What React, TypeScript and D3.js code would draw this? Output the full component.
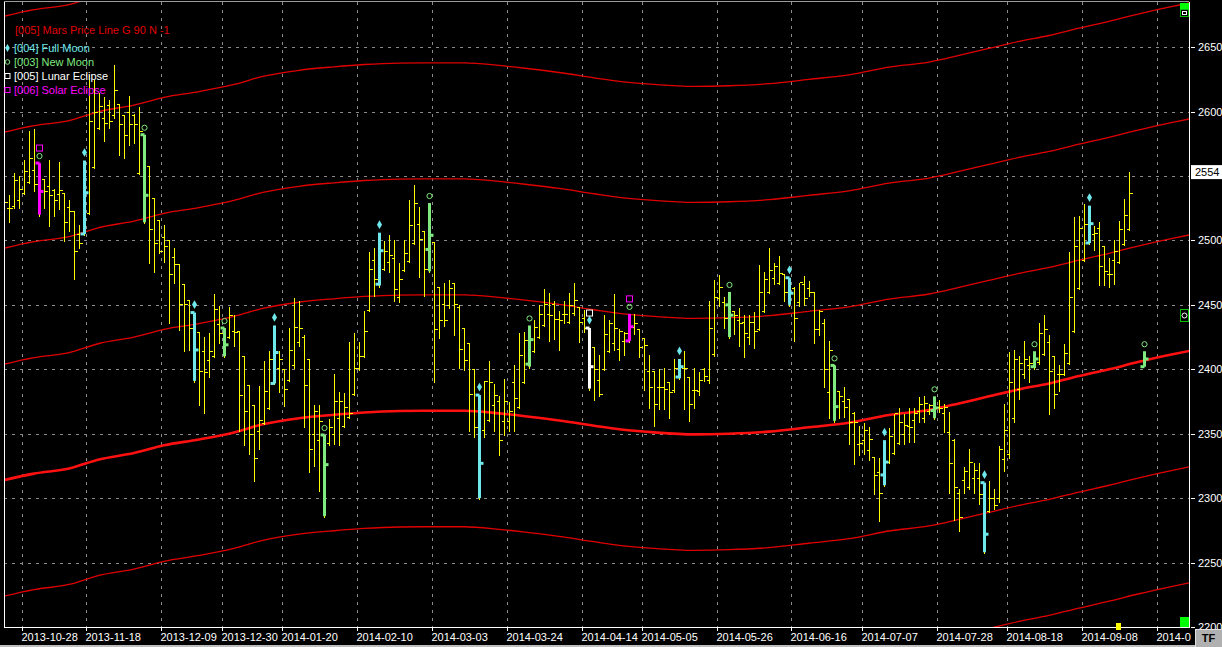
import React from 'react';
import * as d3 from 'd3';

// ---- DATA ----
const opens = [
  2504,2525,2527,2531,2537,2545,2555,2560,2548,2542,
  2539,2536,2537,2526,2523,2505,2505,2521,2557,2587,
  2595,2605,2597,2606,2597,2600,2597,2552,2582,2558,
  2533,2516,2503,2500,2487,2482,2466,2454,2444,2429,
  2414,2407,2410,2435,2432,2425,2430,2430,2410,2388,
  2372,2352,2358,2370,2389,2401,2400,2392,2403,2421,
  2425,2408,2350,2345,2349,2343,2350,2362,2356,2363,
  2381,2401,2410,2446,2485,2466,2478,2483,2486,2456,
  2477,2484,2498,2513,2507,2493,2499,2464,2451,2450,
  2467,2448,2432,2420,2400,2380,2353,2361,2372,2375,
  2360,2360,2390,2371,2390,2404,2414,2425,2434,2443,
  2451,2439,2443,2437,2444,2448,2440,2432,2417,2392,
  2400,2414,2420,2416,2422,2422,2433,2431,2424,2399,
  2399,2386,2386,2390,2384,2394,2401,2394,2384,2383,
  2400,2392,2412,2455,2452,2450,2445,2438,2437,2425,
  2437,2431,2445,2460,2471,2467,2474,2471,2463,2452,
  2466,2463,2460,2431,2436,2382,2403,2383,2375,2377,
  2366,2342,2345,2337,2332,2320,2318,2328,2335,2343,
  2350,2356,2361,2368,2362,2368,2368,2371,2366,2351,
  2345,2304,2314,2309,2316,2316,2312,2290,2300,2300,
  2330,2334,2362,2385,2396,2403,2402,2406,2412,2421,
  2410,2396,2396,2405,2430,2463,2485,2498,2505,2510,
  2496,2474,2485,2483,2497,2509,
];
const highs = [
  2567,2536,2553,2551,2563,2586,2587,2560,2548,2563,
  2541,2562,2537,2532,2523,2513,2562,2629,2625,2615,
  2612,2610,2637,2606,2597,2613,2599,2604,2582,2558,
  2533,2516,2513,2500,2495,2482,2466,2454,2444,2429,
  2426,2429,2459,2450,2432,2449,2443,2430,2410,2388,
  2372,2388,2407,2415,2434,2415,2401,2433,2456,2454,
  2427,2408,2373,2373,2349,2362,2397,2383,2382,2422,
  2429,2422,2446,2492,2495,2506,2500,2505,2501,2483,
  2501,2532,2544,2527,2507,2529,2499,2464,2468,2470,
  2467,2451,2432,2420,2401,2380,2392,2407,2389,2380,
  2393,2375,2404,2429,2430,2434,2439,2451,2463,2460,
  2454,2446,2454,2460,2468,2449,2447,2432,2417,2412,
  2443,2439,2459,2432,2430,2443,2444,2431,2424,2412,
  2399,2401,2402,2390,2409,2408,2415,2395,2402,2399,
  2402,2454,2470,2474,2457,2460,2446,2448,2443,2443,
  2445,2482,2476,2495,2483,2489,2474,2471,2465,2468,
  2473,2469,2461,2447,2440,2423,2403,2383,2387,2377,
  2368,2357,2359,2356,2332,2332,2345,2355,2366,2371,
  2366,2371,2371,2379,2380,2374,2379,2377,2374,2368,
  2347,2308,2325,2339,2328,2328,2312,2314,2308,2341,
  2374,2414,2416,2411,2423,2411,2414,2437,2443,2427,
  2410,2404,2420,2492,2519,2520,2529,2527,2512,2515,
  2496,2487,2501,2516,2533,2554,
];
const lows = [
  2503,2515,2526,2526,2537,2545,2539,2520,2526,2512,
  2520,2525,2500,2508,2471,2495,2505,2521,2557,2587,
  2578,2588,2596,2567,2565,2575,2576,2552,2514,2483,
  2476,2491,2484,2437,2468,2431,2415,2416,2391,2373,
  2367,2395,2410,2421,2410,2425,2419,2353,2342,2335,
  2314,2339,2358,2370,2389,2383,2372,2392,2402,2419,
  2356,2321,2326,2306,2286,2342,2343,2342,2356,2363,
  2381,2400,2410,2446,2458,2465,2478,2476,2454,2453,
  2477,2484,2498,2472,2458,2476,2391,2425,2434,2448,
  2427,2402,2400,2353,2348,2300,2348,2361,2353,2334,
  2350,2353,2353,2371,2390,2402,2414,2425,2434,2423,
  2424,2416,2437,2437,2443,2422,2430,2385,2377,2380,
  2400,2414,2416,2408,2412,2422,2428,2410,2385,2371,
  2357,2370,2370,2363,2383,2393,2370,2361,2371,2381,
  2392,2390,2411,2450,2433,2425,2428,2419,2410,2420,
  2417,2431,2445,2460,2467,2467,2454,2450,2423,2450,
  2451,2458,2421,2427,2387,2363,2360,2363,2364,2343,
  2327,2334,2335,2330,2304,2283,2310,2328,2335,2343,
  2343,2344,2344,2360,2360,2366,2362,2368,2352,2305,
  2284,2275,2305,2308,2305,2296,2258,2290,2292,2298,
  2322,2332,2360,2378,2394,2391,2401,2405,2412,2366,
  2371,2384,2396,2405,2430,2463,2485,2498,2493,2466,
  2466,2465,2467,2483,2497,2509,
];
const closes = [
  2530,2525,2547,2540,2554,2564,2544,2538,2538,2535,
  2531,2539,2514,2523,2492,2498,2537,2593,2600,2604,
  2591,2593,2617,2590,2582,2590,2590,2585,2535,2509,
  2498,2492,2496,2474,2482,2451,2451,2432,2415,2399,
  2398,2414,2447,2428,2419,2442,2429,2380,2368,2350,
  2331,2361,2383,2408,2413,2408,2385,2415,2433,2432,
  2388,2338,2368,2360,2326,2355,2375,2375,2371,2366,
  2401,2410,2430,2478,2470,2492,2492,2489,2462,2470,
  2490,2512,2529,2501,2478,2504,2431,2438,2438,2463,
  2451,2416,2407,2381,2355,2327,2391,2390,2380,2345,
  2375,2368,2378,2411,2423,2423,2433,2443,2451,2442,
  2439,2438,2443,2450,2454,2437,2432,2402,2400,2381,
  2427,2436,2432,2430,2428,2433,2436,2417,2419,2386,
  2373,2386,2385,2382,2401,2402,2401,2373,2384,2392,
  2395,2432,2456,2464,2440,2442,2442,2436,2428,2437,
  2430,2460,2470,2477,2480,2475,2460,2459,2440,2468,
  2455,2460,2431,2445,2400,2415,2371,2379,2371,2359,
  2359,2343,2353,2346,2318,2304,2328,2348,2366,2359,
  2357,2355,2366,2373,2374,2372,2370,2370,2371,2327,
  2309,2285,2321,2328,2322,2303,2272,2300,2295,2338,
  2353,2390,2408,2405,2408,2405,2408,2428,2431,2399,
  2381,2396,2413,2456,2496,2510,2513,2513,2506,2480,
  2476,2474,2492,2509,2520,2537,
];

// projected new-moon bar (future)
const projIndex = [228];
const projOHLC = [[2402, 2414, 2402, 2408]];

const fullMoonBars = [16, 38, 54, 75, 95, 117, 135, 157, 176, 196, 217];
const newMoonBars = [7, 28, 44, 64, 85, 105, 125, 145, 166, 186, 206, 228];
const lunarEclipseBars = [117];
const solarEclipseBars = [7, 125];

// Mars price line (base, harmonic offsets of 90)
const marsIdx = [-1, 6, 13, 19, 26, 32, 39, 46, 52, 59, 66, 72, 79, 86, 92, 99, 105, 111, 118, 123, 130, 138, 145, 153, 161, 169, 177, 185, 191, 197, 203, 209, 215, 221, 227, 233, 238];
const marsBase = [2313, 2319, 2323, 2330, 2335, 2341, 2345.5, 2351, 2357.5, 2362, 2364.7, 2366.5, 2367.6, 2367.8, 2367.8, 2365.8, 2363.2, 2360.3, 2356.2, 2353.4, 2351, 2349.5, 2350, 2351.6, 2355, 2358.5, 2364.5, 2368.4, 2373.5, 2379, 2384.4, 2389, 2394.7, 2400, 2405.8, 2411, 2415];
const marsOffsets = [-180, -90, 0, 90, 180, 270, 360];

const xTickIdx = [3, 16, 31, 43, 55, 70, 85, 100, 115, 127, 142, 157, 171, 186, 200, 215, 230];
const xTickLabels = ['2013-10-28', '2013-11-18', '2013-12-09', '2013-12-30', '2014-01-20', '2014-02-10', '2014-03-03', '2014-03-24', '2014-04-14', '2014-05-05', '2014-05-26', '2014-06-16', '2014-07-07', '2014-07-28', '2014-08-18', '2014-09-08', '2014-09-29'];
const yTicks = [2200, 2250, 2300, 2350, 2400, 2450, 2500, 2550, 2600, 2650];
const lastPriceLabel = '2554';
const lastPriceValue = 2553;

// ---- LAYOUT ----
const W = 1222, H = 647;
const L = 4, R = 1189, T = 2, B = 627;
const TF_X = 1195;
const FONT = '"Liberation Sans", Arial, sans-serif';
const C_CYAN = '#6fe8ec';
const C_GREEN = '#7fea7f';
const C_MAG = '#ff00ff';
const C_YEL = '#ffff00';

export default function App() {
  const x = d3.scaleLinear().domain([0, 237]).range([L, R]);
  const y = d3.scaleLinear().domain([2200, 2685]).range([B, T]);
  const px = (k: number) => Math.round(x(k)) + 0.5;
  const py = (v: number) => Math.round(y(v)) + 0.5;

  const bars = opens.map((o, i) => ({ i, o, h: highs[i], l: lows[i], c: closes[i] }));
  const allBars = [...bars, ...projIndex.map((k, j) => ({ i: k, o: projOHLC[j][0], h: projOHLC[j][1], l: projOHLC[j][2], c: projOHLC[j][3] }))];
  const byIdx = new Map(allBars.map(b => [b.i, b]));

  const marsPts: [number, number][] = marsIdx.map((k, i) => [k, marsBase[i]]);
  const lineGen = (off: number) =>
    d3.line<[number, number]>().x(d => x(d[0])).y(d => y(d[1] + off)).curve(d3.curveMonotoneX)(marsPts) || '';

  const eventBars = Array.from(new Set([...fullMoonBars, ...newMoonBars, ...lunarEclipseBars, ...solarEclipseBars])).sort((a, b) => a - b);
  const colorFor = (k: number) => {
    if (solarEclipseBars.includes(k)) return C_MAG;
    if (lunarEclipseBars.includes(k)) return '#ffffff';
    if (fullMoonBars.includes(k)) return C_CYAN;
    return C_GREEN;
  };
  const priceY = y(lastPriceValue);
  const charW = 5.8;
  const fitLabel = (s: string, gx: number) => {
    const n = Math.floor((TF_X - 1 - gx) / charW);
    return n >= s.length ? s : s.slice(0, Math.max(0, n));
  };

  return (
    <div style={{ position: 'fixed', left: 0, top: 0, width: W, height: H, background: '#000', overflow: 'hidden' }}>
      <svg width={W} height={H} style={{ display: 'block' }}>
        <rect x={0} y={0} width={W} height={H} fill="#000" />
        <defs>
          <clipPath id="plot"><rect x={L} y={T} width={R - L} height={B - T} /></clipPath>
        </defs>
        {/* grid */}
        <g stroke="#8a8a8a" strokeWidth={1} strokeDasharray="3,5" shapeRendering="crispEdges">
          {xTickIdx.map((k, i) => (
            <line key={'gx' + i} x1={Math.round(x(k + 0.5)) + 0.5} x2={Math.round(x(k + 0.5)) + 0.5} y1={T} y2={B} />
          ))}
          {yTicks.filter(v => v > 2200).map(v => (
            <line key={'gy' + v} x1={L} x2={R} y1={py(v)} y2={py(v)} />
          ))}
        </g>
        <g clipPath="url(#plot)">
          {/* Mars price lines */}
          {marsOffsets.map(off => (
            <path key={'m' + off} d={lineGen(off)} fill="none" stroke={off === 0 ? '#ff1010' : '#e00000'} strokeWidth={off === 0 ? 2.6 : 1.3} />
          ))}
          {/* OHLC bars */}
          <g stroke={C_YEL} strokeWidth={1} shapeRendering="crispEdges">
            {bars.map(b => {
              const cx = px(b.i);
              return (
                <g key={'b' + b.i}>
                  <line x1={cx} x2={cx} y1={py(b.h)} y2={py(b.l) + 1} />
                  <line x1={cx - 3} x2={cx} y1={py(b.o)} y2={py(b.o)} />
                  <line x1={cx} x2={cx + 3.5} y1={py(b.c)} y2={py(b.c)} />
                </g>
              );
            })}
          </g>
          {/* moon event bars */}
          {eventBars.map(k => {
            const b = byIdx.get(k);
            if (!b) return null;
            const col = colorFor(k);
            const cx = Math.round(x(k)) + 0.5;
            const top = y(b.h);
            const isFull = fullMoonBars.includes(k);
            const isNew = newMoonBars.includes(k);
            const isEcl = solarEclipseBars.includes(k) || lunarEclipseBars.includes(k);
            const sqCol = solarEclipseBars.includes(k) ? C_MAG : '#ffffff';
            return (
              <g key={'e' + k}>
                <line x1={cx} x2={cx} y1={y(b.h)} y2={y(b.l)} stroke={col} strokeWidth={3} />
                <line x1={cx - 4} x2={cx} y1={y(b.o)} y2={y(b.o)} stroke={col} strokeWidth={3} />
                <line x1={cx} x2={cx + 4} y1={y(b.c)} y2={y(b.c)} stroke={col} strokeWidth={3} />
                {isFull && <path d={d3.symbol().type(d3.symbolDiamond).size(22)() || ''} transform={`translate(${cx},${top - 8})`} fill={C_CYAN} />}
                {isNew && <circle cx={cx} cy={top - 7} r={2.6} fill="none" stroke={C_GREEN} strokeWidth={1} />}
                {isEcl && <rect x={cx - 3} y={top - 18} width={6} height={6} fill="none" stroke={sqCol} strokeWidth={1} />}
              </g>
            );
          })}
        </g>
        {/* frame */}
        <g stroke="#ffffff" strokeWidth={1} shapeRendering="crispEdges">
          <line x1={L + 0.5} x2={L + 0.5} y1={T} y2={B} />
          <line x1={R + 0.5} x2={R + 0.5} y1={T} y2={B + 1} />
          <line x1={L} x2={R + 1} y1={B + 0.5} y2={B + 0.5} />
        </g>
        <line x1={L} x2={R} y1={1.5} y2={1.5} stroke="#9a9a9a" strokeWidth={1} />
        {/* x axis ticks + labels */}
        <g>
          {xTickIdx.map((k, i) => {
            const gx = Math.round(x(k + 0.5)) + 0.5;
            return (
              <g key={'xl' + i}>
                <line x1={gx} x2={gx} y1={B + 1} y2={B + 4} stroke="#ffffff" strokeWidth={1} />
                <text x={gx - 1} y={641} fill="#ffffff" fontSize={11} fontFamily={FONT}>{fitLabel(xTickLabels[i], gx - 1)}</text>
              </g>
            );
          })}
        </g>
        {/* y axis */}
        <g>
          {yTicks.map(v => (
            <g key={'yl' + v}>
              <line x1={R + 2} x2={R + 6} y1={py(v)} y2={py(v)} stroke="#ffffff" strokeWidth={1} />
              {Math.abs(y(v) - priceY) > 12 && (
                <text x={1198} y={y(v) + 4} fill="#ffffff" fontSize={11} fontFamily={FONT}>{v}</text>
              )}
            </g>
          ))}
          <rect x={1191} y={priceY - 7} width={31} height={14} fill="#ffffff" />
          <text x={1195} y={priceY + 4} fill="#000" fontSize={11} fontFamily={FONT}>{lastPriceLabel}</text>
        </g>
        {/* right-side widgets */}
        <rect x={1180} y={3} width={9} height={7} fill="#00ff00" />
        <rect x={1180.5} y={9.5} width={8} height={7} fill="#000" stroke="#00c000" />
        <rect x={1182.5} y={11.5} width={4} height={3} fill="none" stroke="#ffffff" />
        <rect x={1180.5} y={309.5} width={8} height={12} fill="#000" stroke="#00c000" />
        <circle cx={1184.5} cy={315.5} r={2.5} fill="none" stroke="#ffffff" />
        <rect x={1180} y={617} width={9} height={10} fill="#00ff00" />
        <rect x={x(222.8) - 2} y={623} width={5} height={7} fill="#ffff00" />
        {/* TF button */}
        <rect x={TF_X + 0.5} y={629.5} width={W - TF_X} height={18} fill="#b0b0b0" stroke="#e0e0e0" />
        <text x={(TF_X + W) / 2} y={642} textAnchor="middle" fill="#000" fontSize={11} fontWeight="bold" fontFamily={FONT}>TF</text>
        <rect x={0} y={645} width={TF_X} height={2} fill="#bdbdbd" />
        {/* legend */}
        <g fontSize={11} fontFamily={FONT}>
          <text x={15} y={34} fill="#e00000">[005] Mars Price Line G 90 N -1</text>
          <path d={d3.symbol().type(d3.symbolDiamond).size(18)() || ''} transform="translate(7.5,48)" fill={C_CYAN} />
          <text x={14} y={52} fill={C_CYAN}>[004] Full Moon</text>
          <circle cx={7.5} cy={62} r={2.3} fill="none" stroke={C_GREEN} />
          <text x={14} y={66} fill={C_GREEN}>[003] New Moon</text>
          <rect x={5} y={73.5} width={5} height={5} fill="none" stroke="#ffffff" />
          <text x={14} y={80} fill="#ffffff">[005] Lunar Eclipse</text>
          <rect x={5} y={87.5} width={5} height={5} fill="none" stroke={C_MAG} />
          <text x={14} y={94} fill={C_MAG}>[006] Solar Eclipse</text>
        </g>
      </svg>
    </div>
  );
}
